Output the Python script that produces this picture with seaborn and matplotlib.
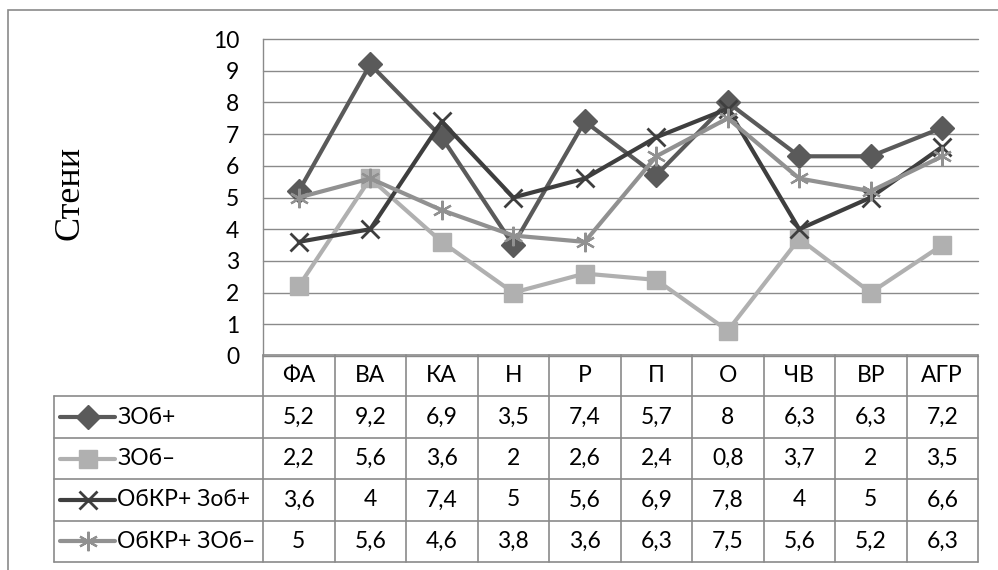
import numpy as np
import pandas as pd
import matplotlib
matplotlib.use("Agg")
import matplotlib.pyplot as plt
import seaborn as sns
from matplotlib.patches import Rectangle

categories = ["ФА", "ВА", "КА", "Н", "Р", "П", "О", "ЧВ", "ВР", "АГР"]
series_names = ["ЗОб+", "ЗОб–", "ОбКР+ Зоб+", "ОбКР+ ЗОб–"]
zob_plus = [5.2, 9.2, 6.9, 3.5, 7.4, 5.7, 8, 6.3, 6.3, 7.2]
zob_minus = [2.2, 5.6, 3.6, 2, 2.6, 2.4, 0.8, 3.7, 2, 3.5]
obkr_zob_plus = [3.6, 4, 7.4, 5, 5.6, 6.9, 7.8, 4, 5, 6.6]
obkr_zob_minus = [5, 5.6, 4.6, 3.8, 3.6, 6.3, 7.5, 5.6, 5.2, 6.3]
y_ticks = list(range(0, 11))
y_label = "Стени"

colors = ["#5a5a5a", "#b0b0b0", "#3e3e3e", "#919191"]
markers = ["D", "s", "x", (6, 2, 0)]
marker_sizes = [12, 12.5, 13, 14]
edge_widths = [1, 1, 2, 1.6]
GRID = "#8a8a8a"
W, H = 998, 570

sns.set_theme(style="white")
plt.rcParams["font.family"] = ["Lato", "DejaVu Sans"]
FS = 16.5

all_values = [zob_plus, zob_minus, obkr_zob_plus, obkr_zob_minus]
pos = np.arange(len(categories))
df = pd.concat([
    pd.DataFrame({"pos": pos, "cat": categories, "value": vals, "series": name})
    for name, vals in zip(series_names, all_values)
], ignore_index=True)

fig = plt.figure(figsize=(W / 100, H / 100), dpi=100)
fig.patch.set_facecolor("white")

# main plot area
ax = fig.add_axes([263 / W, 1 - 356 / H, (978 - 263) / W, (356 - 39) / H])
for name, c, m, ms, mew in zip(series_names, colors, markers, marker_sizes, edge_widths):
    sub = df[df["series"] == name]
    sns.lineplot(data=sub, x="pos", y="value", ax=ax, color=c, marker=m,
                 markersize=ms, markeredgecolor=c, markerfacecolor=c,
                 markeredgewidth=mew, linewidth=3, legend=False, zorder=3)

ax.set_xlim(-0.5, len(categories) - 0.5)
ax.set_ylim(0, 10)
ax.set_yticks(y_ticks)
ax.set_xticks([])
ax.set_xlabel("")
ax.set_ylabel("")
for yv in y_ticks:
    ax.axhline(yv, color=GRID, lw=1, zorder=1, clip_on=False)
for s in ["top", "right", "bottom"]:
    ax.spines[s].set_visible(False)
ax.spines["left"].set_color(GRID)
ax.spines["left"].set_linewidth(1)
ax.tick_params(axis="y", length=0, pad=17, labelsize=FS, labelcolor="black")
ax.patch.set_alpha(0)

fig.text(70 / W, 1 - 193 / H, y_label, rotation=90, ha="center", va="center",
         fontfamily="Liberation Serif", fontsize=26, color="black")

# data table
unit = (978 - 263) / len(categories)
left_x = -0.5 - (263 - 54) / unit
n = len(categories)
tab = fig.add_axes([54 / W, 1 - 562 / H, (978 - 54) / W, (562 - 355) / H])
tab.set_xlim(left_x, n - 0.5)
tab.set_ylim(len(series_names) + 1, 0)
tab.axis("off")

tab.plot([-0.5, n - 0.5], [0, 0], color=GRID, lw=1.2, clip_on=False)
for r in range(1, len(series_names) + 2):
    tab.plot([left_x, n - 0.5], [r, r], color=GRID, lw=1.2, clip_on=False)
for i in range(n + 1):
    tab.plot([i - 0.5, i - 0.5], [0, len(series_names) + 1], color=GRID, lw=1.2, clip_on=False)
tab.plot([left_x, left_x], [1, len(series_names) + 1], color=GRID, lw=1.2, clip_on=False)

for i, cat in enumerate(categories):
    tab.text(i, 0.5, cat, ha="center", va="center", fontsize=FS, color="black")

def fmt(v):
    s = f"{v:g}"
    return s.replace(".", ",")

for r, (name, vals, c, m, ms, mew) in enumerate(zip(series_names, all_values, colors,
                                                    markers, marker_sizes, edge_widths)):
    y = r + 1.5
    for i, v in enumerate(vals):
        tab.text(i, y, fmt(v), ha="center", va="center", fontsize=FS, color="black")
    x0 = left_x + 6 / unit
    x1 = left_x + 61 / unit
    xm = left_x + 34 / unit
    tab.plot([x0, x1], [y, y], color=c, lw=3, solid_capstyle="round", clip_on=False)
    tab.plot([xm], [y], marker=m, markersize=ms, color=c, markeredgecolor=c,
             markeredgewidth=mew, clip_on=False)
    tab.text(left_x + 63 / unit, y, name, ha="left", va="center", fontsize=FS, color="black")

# outer chart frame runs past the right and bottom edges of the image
fig.add_artist(Rectangle((8 / W, 1 - 600 / H), (1030 - 8) / W, (600 - 10) / H,
                         transform=fig.transFigure, fill=False, ec=GRID, lw=1.2))

fig.savefig("out.png", dpi=100)
